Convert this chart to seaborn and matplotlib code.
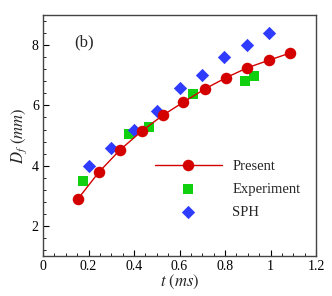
import numpy as np
import pandas as pd
import matplotlib
matplotlib.use("Agg")
import matplotlib.pyplot as plt
import matplotlib.ticker as mticker
import seaborn as sns

# ── Data ──────────────────────────────────────────────────────────────────────
present_t = [0.154, 0.245, 0.338, 0.434, 0.526, 0.617, 0.712, 0.804, 0.898, 0.992, 1.086]
present_d = [2.90, 3.78, 4.52, 5.15, 5.67, 6.11, 6.55, 6.92, 7.25, 7.50, 7.74]

exp_t = [0.177, 0.380, 0.467, 0.658, 0.888, 0.929]
exp_d = [3.50, 5.04, 5.29, 6.38, 6.81, 6.99]

sph_t = [0.200, 0.300, 0.401, 0.500, 0.600, 0.697, 0.797, 0.898, 0.995]
sph_d = [4.00, 4.60, 5.20, 5.81, 6.59, 7.00, 7.60, 8.00, 8.40]

df_present = pd.DataFrame({"t": present_t, "D": present_d})
df_exp = pd.DataFrame({"t": exp_t, "D": exp_d})
df_sph = pd.DataFrame({"t": sph_t, "D": sph_d})

# ── Style ─────────────────────────────────────────────────────────────────────
sns.set_theme(style="ticks")
plt.rcParams["font.family"] = ["Liberation Serif", "DejaVu Serif"]
plt.rcParams["mathtext.fontset"] = "stix"

RED = "#d40000"
GREEN = "#10d010"
BLUE = "#2f3cff"

fig = plt.figure(figsize=(3.32, 2.96), dpi=100)
ax = fig.add_axes([0.1295, 0.135, 0.8225, 0.814])

sns.lineplot(data=df_present, x="t", y="D", color=RED, linewidth=1.0,
             marker="o", markersize=8.3, markeredgewidth=0, ax=ax, label="Present")
sns.scatterplot(data=df_exp, x="t", y="D", color=GREEN, marker="s", s=44,
                linewidth=0, ax=ax, label="Experiment")
sns.scatterplot(data=df_sph, x="t", y="D", color=BLUE, marker="D", s=46,
                linewidth=0, ax=ax, label="SPH")

ax.set_xlim(0, 1.2)
ax.set_ylim(1, 9)
ax.xaxis.set_major_locator(mticker.MultipleLocator(0.2))
ax.xaxis.set_minor_locator(mticker.MultipleLocator(0.05))
ax.yaxis.set_major_locator(mticker.FixedLocator([2, 4, 6, 8]))
ax.yaxis.set_minor_locator(mticker.MultipleLocator(0.4))
ax.xaxis.set_major_formatter(mticker.FuncFormatter(lambda v, p: f"{v:g}"))

ax.tick_params(which="both", direction="in", labelsize=10, colors="black", pad=3)
ax.tick_params(which="major", length=4, width=0.8)
ax.tick_params(which="minor", length=2, width=0.6)
for s in ax.spines.values():
    s.set_color("#444444")
    s.set_linewidth(1.0)

ax.set_xlabel(r"$t\ (ms)$", fontsize=12, labelpad=0)
ax.set_ylabel(r"$D_f\ (mm)$", fontsize=12, labelpad=2)

ax.text(0.15, 0.885, "(b)", transform=ax.transAxes, fontsize=12, ha="center", va="center")

leg = ax.legend(loc="upper left", bbox_to_anchor=(0.41, 0.398), frameon=False,
                fontsize=10.5, handlelength=4.6, handletextpad=0.7,
                labelspacing=0.65, borderaxespad=0, borderpad=0)

fig.savefig("out.png", dpi=100)
